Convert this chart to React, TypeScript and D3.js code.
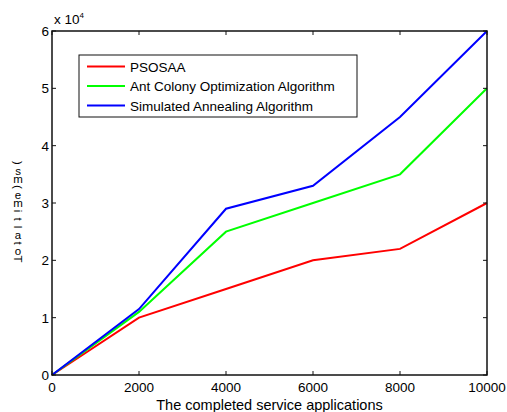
import React, { useRef, useEffect } from "react";
import * as d3 from "d3";

const xValues = [0, 2000, 4000, 6000, 8000, 10000];
const psosaa = [0, 1.0, 1.5, 2.0, 2.2, 3.0];
const antColony = [0, 1.1, 2.5, 3.0, 3.5, 5.0];
const annealing = [0, 1.15, 2.9, 3.3, 4.5, 6.0];
const seriesNames = ["PSOSAA", "Ant Colony Optimization Algorithm", "Simulated Annealing Algorithm"];
const seriesColors = ["#ff0000", "#00ff00", "#0000ff"];
const xTicks = [0, 2000, 4000, 6000, 8000, 10000];
const yTicks = [0, 1, 2, 3, 4, 5, 6];
const yLabelChars = [")", "s", "m", "(", "e", "m", "i", "t", "l", "a", "t", "o", "T"];

const App = () => {
  const svgRef = useRef<SVGSVGElement>(null);

  useEffect(() => {
    const svg = d3.select(svgRef.current);
    svg.selectAll("*").remove();
    const font = "Arial, 'Liberation Sans', sans-serif";

    const x = d3.scaleLinear().domain([0, 10000]).range([52, 487]);
    const y = d3.scaleLinear().domain([0, 6]).range([375, 31]);

    svg.append("rect").attr("width", 507).attr("height", 412).attr("fill", "#fff");

    const series = [psosaa, antColony, annealing];
    const line = d3
      .line<number>()
      .x((_, i) => x(xValues[i]))
      .y((d) => y(d));

    series.forEach((s, i) => {
      svg
        .append("path")
        .attr("d", line(s))
        .attr("fill", "none")
        .attr("stroke", seriesColors[i])
        .attr("stroke-width", 2);
    });

    // box
    svg
      .append("rect")
      .attr("x", x(0))
      .attr("y", y(6))
      .attr("width", x(10000) - x(0))
      .attr("height", y(0) - y(6))
      .attr("fill", "none")
      .attr("stroke", "#111")
      .attr("stroke-width", 1.5);

    const tickLen = 4;
    xTicks.forEach((t) => {
      svg.append("line").attr("x1", x(t)).attr("x2", x(t)).attr("y1", y(0)).attr("y2", y(0) - tickLen).attr("stroke", "#111");
      svg.append("line").attr("x1", x(t)).attr("x2", x(t)).attr("y1", y(6)).attr("y2", y(6) + tickLen).attr("stroke", "#111");
      svg
        .append("text")
        .attr("x", x(t))
        .attr("y", y(0) + 17)
        .attr("text-anchor", "middle")
        .style("font-family", font)
        .style("font-size", "13.5px")
        .text(t);
    });
    yTicks.forEach((t) => {
      svg.append("line").attr("x1", x(0)).attr("x2", x(0) + tickLen).attr("y1", y(t)).attr("y2", y(t)).attr("stroke", "#111");
      svg.append("line").attr("x1", x(10000)).attr("x2", x(10000) - tickLen).attr("y1", y(t)).attr("y2", y(t)).attr("stroke", "#111");
      svg
        .append("text")
        .attr("x", x(0) - 3)
        .attr("y", y(t) + 5)
        .attr("text-anchor", "end")
        .style("font-family", font)
        .style("font-size", "13.5px")
        .text(t);
    });

    // exponent
    const exp = svg
      .append("text")
      .attr("x", 54)
      .attr("y", 24)
      .style("font-family", font)
      .style("font-size", "13.5px")
      .text("x 10");
    exp.append("tspan").attr("dy", -6).style("font-size", "8px").text("4");

    svg
      .append("text")
      .attr("x", (x(0) + x(10000)) / 2)
      .attr("y", 410)
      .attr("text-anchor", "middle")
      .style("font-family", font)
      .style("font-size", "14.5px")
      .text("The completed service applications");

    // garbled stacked y label
    yLabelChars.forEach((c, i) => {
      const cy = 163 + i * 8;
      const narrow = "()itlT".includes(c);
      svg
        .append("text")
        .attr("x", 0)
        .attr("y", 0)
        .attr("text-anchor", "middle")
        .attr("transform", narrow ? `translate(18,${cy}) rotate(90)` : `translate(18,${cy + 4})`)
        .attr("dy", narrow ? "0.35em" : 0)
        .style("font-family", font)
        .style("font-size", "11.5px")
        .text(c);
    });

    // legend
    const lg = svg.append("g");
    lg.append("rect")
      .attr("x", 79)
      .attr("y", 55)
      .attr("width", 278)
      .attr("height", 62)
      .attr("fill", "#fff")
      .attr("stroke", "#111")
      .attr("stroke-width", 1);
    seriesNames.forEach((n, i) => {
      const ly = 66.5 + i * 19.5;
      lg.append("line").attr("x1", 87).attr("x2", 125).attr("y1", ly).attr("y2", ly).attr("stroke", seriesColors[i]).attr("stroke-width", 2);
      lg.append("text")
        .attr("x", 130)
        .attr("y", ly + 5)
        .style("font-family", font)
        .style("font-size", "13.5px")
        .text(n);
    });
  }, []);

  return <svg ref={svgRef} width={507} height={412} style={{ position: "absolute", left: 0, top: 0 }}></svg>;
};

export default App;
